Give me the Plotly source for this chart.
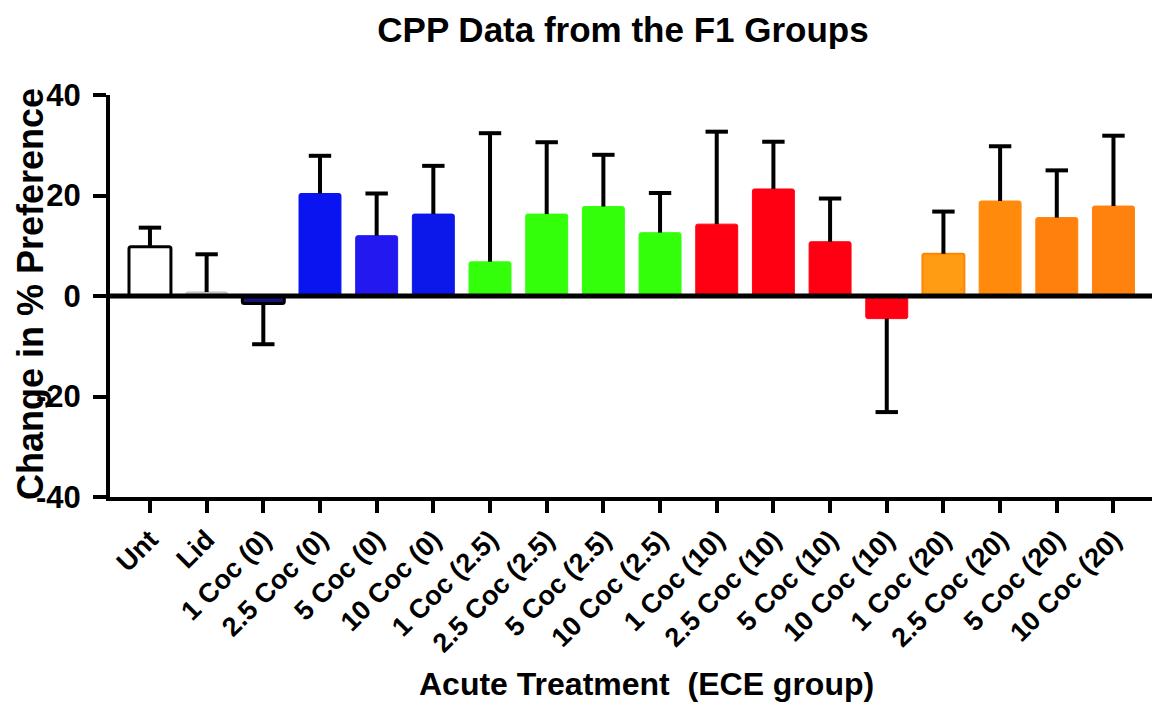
import plotly.graph_objects as go

# Treatment groups along the x axis
categories = [
    "Unt", "Lid",
    "1 Coc (0)", "2.5 Coc (0)", "5 Coc (0)", "10 Coc (0)",
    "1 Coc (2.5)", "2.5 Coc (2.5)", "5 Coc (2.5)", "10 Coc (2.5)",
    "1 Coc (10)", "2.5 Coc (10)", "5 Coc (10)", "10 Coc (10)",
    "1 Coc (20)", "2.5 Coc (20)", "5 Coc (20)", "10 Coc (20)",
]

# Mean change in % preference
means = [9.8, 0.8, -1.5, 20.4, 12.0, 16.3, 6.8, 16.3, 17.8, 12.6,
         14.3, 21.3, 10.8, -4.5, 8.4, 18.9, 15.6, 17.9]

# One-sided error (SEM), drawn away from zero
errors = [3.8, 7.5, 8.1, 7.5, 8.4, 9.6, 25.6, 14.3, 10.3, 7.9,
          18.4, 9.4, 8.6, 18.6, 8.4, 10.9, 9.4, 14.0]

# Bar fills and outlines
fill_colors = ["#ffffff", "#c8c8c8",
               "#16167a", "#0a14f0", "#2418f0", "#0c18ea",
               "#33ff0a", "#33ff0a", "#33ff0a", "#33ff0a",
               "#ff0012", "#ff0012", "#ff0012", "#ff0012",
               "#ff9c14", "#ff8a0c", "#ff800c", "#ff820e"]
line_colors = ["#000000", "#bdbdbd",
               "#000000", "#0a14f0", "#2418f0", "#0c18ea",
               "#33ff0a", "#33ff0a", "#33ff0a", "#33ff0a",
               "#ff0012", "#ff0012", "#ff0012", "#ff0012",
               "#ff8400", "#ff8a0c", "#ff800c", "#ff820e"]
line_widths = [3, 1, 3, 1, 1, 1, 1, 1, 1, 1, 1, 1, 1, 1, 2, 1, 1, 1]

y_ticks = [-40, -20, 0, 20, 40]
y_tick_text = ["-40", "-20", "0", "20", "40"]

FONT = "Liberation Sans, Arial, Helvetica, sans-serif"

positions = list(range(len(categories)))

# Whisker stems and end caps (one-sided, away from zero)
stem_x, stem_y, cap_x, cap_y = [], [], [], []
for x, m, e in zip(positions, means, errors):
    end = m + e if m >= 0 else m - e
    stem_x += [x, x, None]
    stem_y += [m, end, None]
    cap_x.append(x)
    cap_y.append(end)

fig = go.Figure()
fig.add_trace(go.Bar(
    x=positions, y=means, width=0.74,
    marker=dict(color=fill_colors,
                line=dict(color=line_colors, width=line_widths),
                cornerradius=2),
    showlegend=False, hoverinfo="skip",
))
fig.add_trace(go.Scatter(
    x=stem_x, y=stem_y, mode="lines",
    line=dict(color="black", width=4),
    showlegend=False, hoverinfo="skip",
))
fig.add_trace(go.Scatter(
    x=cap_x, y=cap_y, mode="markers",
    marker=dict(symbol="line-ew", size=16,
                line=dict(color="black", width=4)),
    showlegend=False, hoverinfo="skip",
))

# Heavy baseline at zero
fig.add_shape(type="line", xref="paper", x0=0, x1=1, yref="y", y0=0, y1=0,
              line=dict(color="black", width=5), layer="above")

fig.update_layout(
    width=1157, height=706,
    margin=dict(l=110, r=5, t=95, b=209),
    paper_bgcolor="white", plot_bgcolor="white",
    font=dict(family=FONT, color="black"),
    title=dict(text="CPP Data from the F1 Groups",
               font=dict(family=FONT, size=35, weight="bold", color="black"),
               xref="container", yref="container",
               x=623 / 1157, y=1 - 30 / 706, xanchor="center", yanchor="middle"),
    xaxis=dict(
        range=[-0.705, 17.68],
        tickmode="array", tickvals=positions, ticktext=categories,
        tickangle=-45,
        tickfont=dict(family=FONT, size=27, weight="bold", color="black"),
        showline=True, linecolor="black", linewidth=4,
        ticks="outside", ticklen=12, tickwidth=4, tickcolor="black",
        showgrid=False, zeroline=False,
    ),
    yaxis=dict(
        range=[-40, 40],
        tickmode="array", tickvals=y_ticks, ticktext=y_tick_text,
        tickfont=dict(family=FONT, size=31, weight="bold", color="black"),
        ticklabelstandoff=6,
        showline=True, linecolor="black", linewidth=4,
        ticks="outside", ticklen=13, tickwidth=4, tickcolor="black",
        showgrid=False, zeroline=False,
    ),
    annotations=[
        dict(text="Change in % Preference", textangle=-90,
             xref="paper", yref="paper",
             x=(30 - 110) / 1042, y=(497 - 294) / 402,
             xanchor="center", yanchor="middle", showarrow=False,
             font=dict(family=FONT, size=36, weight="bold", color="black")),
        dict(text="Acute Treatment\u00a0\u00a0(ECE group)",
             xref="paper", yref="paper",
             x=(646 - 110) / 1042, y=-(684 - 497) / 402,
             xanchor="center", yanchor="middle", showarrow=False,
             font=dict(family=FONT, size=32, weight="bold", color="black")),
    ],
)

fig.write_html("out.html")
